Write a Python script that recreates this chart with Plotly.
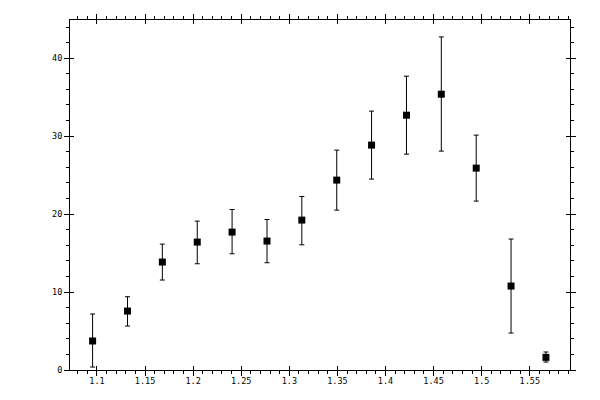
import plotly.graph_objects as go

x_vals = [1.0955, 1.1318, 1.1680, 1.2043, 1.2405, 1.2768, 1.3130,
          1.3493, 1.3855, 1.4218, 1.4580, 1.4943, 1.5305, 1.5668]
y_vals = [3.72, 7.56, 13.85, 16.41, 17.69, 16.54, 19.23,
          24.36, 28.85, 32.69, 35.38, 25.90, 10.77, 1.62]
err_up = [3.46, 1.84, 2.30, 2.69, 2.90, 2.77, 3.03,
          3.85, 4.36, 5.00, 7.35, 4.23, 6.03, 0.69]
err_down = [3.34, 1.92, 2.31, 2.78, 2.78, 2.78, 3.17,
            3.85, 4.36, 5.00, 7.30, 4.23, 6.03, 0.60]

x_range = [1.072, 1.5918]
y_range = [0, 44.9]
font = dict(family="DejaVu Sans Mono", size=8.5, color="black")

fig = go.Figure()

fig.add_trace(go.Scatter(
    x=x_vals, y=y_vals, mode="markers",
    marker=dict(symbol="square", size=7, color="black"),
    error_y=dict(type="data", symmetric=False, array=err_up, arrayminus=err_down,
                 color="black", thickness=1, width=2.5),
    showlegend=False,
))

# invisible trace so the overlay axes (inner half of the major ticks) get drawn
fig.add_trace(go.Scatter(
    x=[x_vals[0]], y=[y_vals[0]], xaxis="x2", yaxis="y2",
    mode="markers", marker=dict(opacity=0), hoverinfo="skip", showlegend=False,
))

# page body adds some offset, so margins are shifted to keep the box where it was
fig.update_layout(
    width=600, height=400,
    margin=dict(l=62, r=38, t=6, b=38),
    paper_bgcolor="white", plot_bgcolor="white",
    font=font,
    xaxis=dict(
        range=x_range, tick0=1.1, dtick=0.05, ticks="outside", ticklen=5,
        tickwidth=1, tickcolor="black", showline=True, linecolor="black",
        linewidth=1, mirror="allticks", showgrid=False, zeroline=False,
        tickfont=font, ticklabelstandoff=-2,
        minor=dict(dtick=0.01, tick0=1.1, ticks="outside", ticklen=3,
                   tickwidth=1, tickcolor="black", showgrid=False),
    ),
    yaxis=dict(
        range=y_range, tick0=0, dtick=10, ticks="outside", ticklen=5,
        tickwidth=1, tickcolor="black", showline=True, linecolor="black",
        linewidth=1, mirror="allticks", showgrid=False, zeroline=False,
        tickfont=font,
        minor=dict(dtick=2, tick0=0, ticks="outside", ticklen=3,
                   tickwidth=1, tickcolor="black", showgrid=False),
    ),
    xaxis2=dict(
        range=x_range, overlaying="x", tick0=1.1, dtick=0.05, ticks="inside",
        ticklen=4, tickwidth=1, tickcolor="black", mirror="allticks",
        showline=False, showgrid=False, zeroline=False, showticklabels=False,
    ),
    yaxis2=dict(
        range=y_range, overlaying="y", tick0=0, dtick=10, ticks="inside",
        ticklen=4, tickwidth=1, tickcolor="black", mirror="allticks",
        showline=False, showgrid=False, zeroline=False, showticklabels=False,
    ),
)

fig.write_html("out.html")
